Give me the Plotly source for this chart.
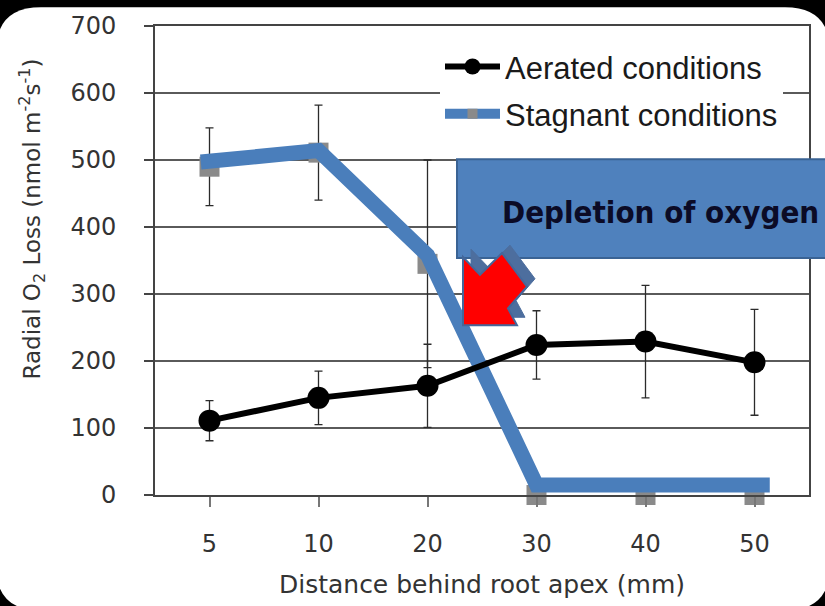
import plotly.graph_objects as go

# ---------------- data ----------------
categories = ["5", "10", "20", "30", "40", "50"]
aerated = [111, 145, 163, 224, 229, 198]
aerated_err = [30, 40, 62, 51, 84, 79]
stagnant = [490, 511, 345, 0, 0, 0]
stagnant_err = [58, 71, 155, 0, 0, 0]
# hand-drawn blue highlight line laid over the stagnant series
overlay_pos = [-0.08, 1, 2, 3, 4, 5, 5.14]
overlay_val = [497, 514, 358, 15, 15, 15, 15]
y_ticks = [0, 100, 200, 300, 400, 500, 600, 700]

# ---------------- geometry helpers (plot area in pixels) ----------------
W, H = 825, 606
L, R, T, B = 155, 16, 20, 111
PW, PH = W - L - R, H - T - B


def px(x):
    return (x - L) / PW


def py(y):
    return (H - B - y) / PH


idx = list(range(len(categories)))

fig = go.Figure()

# stagnant data markers (grey squares)
fig.add_trace(go.Scatter(
    x=idx, y=stagnant, mode="markers",
    marker=dict(symbol="square", size=20, color="#8a8a8a"),
    error_y=dict(type="data", array=stagnant_err, visible=True,
                 color="#2b2b2b", thickness=1.3, width=4),
    showlegend=False, cliponaxis=False, hoverinfo="skip"))

# blue highlight line
fig.add_trace(go.Scatter(
    x=overlay_pos, y=overlay_val, mode="lines",
    line=dict(color="#4a7ebb", width=15),
    showlegend=False, cliponaxis=False, hoverinfo="skip"))

# aerated series
fig.add_trace(go.Scatter(
    x=idx, y=aerated, mode="lines+markers", name="Aerated conditions",
    line=dict(color="black", width=6),
    marker=dict(symbol="circle", size=22, color="black"),
    error_y=dict(type="data", array=aerated_err, visible=True,
                 color="#2b2b2b", thickness=1.3, width=4),
    legendgroup="a", cliponaxis=False))

# legend entry for stagnant
fig.add_trace(go.Scatter(
    x=[None], y=[None], mode="lines+markers", name="Stagnant conditions",
    line=dict(color="#4a7ebb", width=10),
    marker=dict(symbol="square", size=10, color="#8a8a8a"),
    legendgroup="b"))

# ---------------- shapes ----------------
shapes = []
# white rounded panel on black page
x0, x1, y0, y1, r = -4, 830, 1, 612, 45
rx, ry = r / PW, r / PH
X0, X1, Y0, Y1 = px(x0), px(x1), py(y0), py(y1)
path = (f"M {X0 + rx},{Y0} L {X1 - rx},{Y0} Q {X1},{Y0} {X1},{Y0 - ry} "
        f"L {X1},{Y1 + ry} Q {X1},{Y1} {X1 - rx},{Y1} "
        f"L {X0 + rx},{Y1} Q {X0},{Y1} {X0},{Y1 + ry} "
        f"L {X0},{Y0 - ry} Q {X0},{Y0} {X0 + rx},{Y0} Z")
shapes.append(dict(type="path", path=path, xref="paper", yref="paper",
                   fillcolor="white", line=dict(width=0), layer="below"))

# callout box
shapes.append(dict(type="rect", xref="paper", yref="paper",
                   x0=px(457), x1=px(832), y0=py(255), y1=py(155),
                   fillcolor="#4f81bd", line=dict(color="#3a6394", width=2),
                   layer="above"))

# red block arrow with blue-grey bevel
arrow = [(463, 323), (463, 254), (480, 272), (502, 250), (527, 284),
         (508, 306), (517, 323)]


def poly(pts, dx=0, dy=0):
    s = "M " + " L ".join(f"{px(a + dx)},{py(b + dy)}" for a, b in pts) + " Z"
    return s


shapes.append(dict(type="path", path=poly(arrow, 8, -8), xref="paper", yref="paper",
                   fillcolor="#4d6e9e", line=dict(color="#4d6e9e", width=1),
                   layer="above"))
shapes.append(dict(type="path", path=poly(arrow), xref="paper", yref="paper",
                   fillcolor="#ff0000", line=dict(color="#44679a", width=2),
                   layer="above"))

annotations = [
    dict(text="<b>Depletion of oxygen</b>", x=px(660), y=py(208),
         xref="paper", yref="paper", showarrow=False,
         xanchor="center", yanchor="middle",
         font=dict(family="DejaVu Sans Condensed", size=31, color="#0b0b26")),
    dict(text="Radial O<sub>2</sub> Loss (nmol m<sup>-2</sup>s<sup>-1</sup>)",
         x=px(32), y=py(216), xref="paper", yref="paper", showarrow=False,
         xanchor="center", yanchor="middle", textangle=-90,
         font=dict(family="DejaVu Sans", size=23, color="#333333")),
]

fig.update_layout(
    width=W, height=H,
    margin=dict(l=L, r=R, t=T, b=B, pad=0),
    paper_bgcolor="black",
    plot_bgcolor="rgba(0,0,0,0)",
    shapes=shapes,
    annotations=annotations,
    legend=dict(x=px(440), y=py(34), xanchor="left", yanchor="top",
                bgcolor="white", itemwidth=55, tracegroupgap=4,
                traceorder="grouped",
                font=dict(family="Liberation Sans, Arial", size=31, color="#1a1a1a")),
    xaxis=dict(
        range=[-0.5, 5.5], tickmode="array", tickvals=idx, ticktext=categories,
        showgrid=False, zeroline=False,
        showline=True, linecolor="#444444", linewidth=2, mirror=True,
        ticks="outside", ticklen=10, tickwidth=2, tickcolor="#777777",
        ticklabelstandoff=16,
        tickfont=dict(family="DejaVu Sans", size=24, color="#333333"),
        title=dict(text="Distance behind root apex (mm)", standoff=19,
                   font=dict(family="DejaVu Sans", size=25, color="#333333")),
    ),
    yaxis=dict(
        range=[0, 700], tickmode="array", tickvals=y_ticks,
        showgrid=True, gridcolor="#5a5a5a", gridwidth=1.5, zeroline=False,
        showline=True, linecolor="#444444", linewidth=2, mirror=True,
        ticks="outside", ticklen=9, tickwidth=2, tickcolor="#444444",
        ticklabelstandoff=23,
        tickfont=dict(family="DejaVu Sans", size=24, color="#333333"),
    ),
)

fig.write_html(
    "out.html",
    config={"displayModeBar": False},
    post_script="document.body.style.margin='0';document.body.style.overflow='hidden';",
)
